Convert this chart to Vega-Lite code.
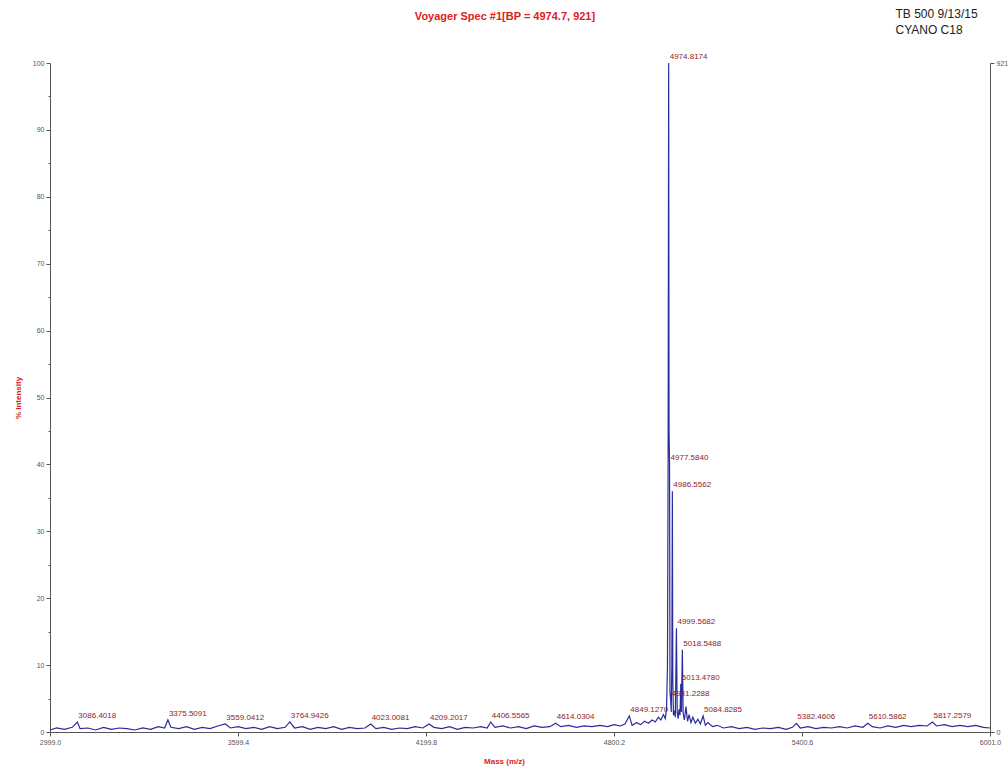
{
  "$schema": "https://vega.github.io/schema/vega-lite/v6.json",
  "autosize": "none",
  "width": 940,
  "height": 669,
  "padding": {"left": 50, "top": 63, "right": 18, "bottom": 39},
  "background": "white",
  "config": {
    "view": {"stroke": null},
    "axis": {
      "labelFont": "Liberation Sans Narrow, Liberation Sans, sans-serif",
      "labelFontSize": 7,
      "labelColor": "#555555",
      "domainColor": "#555555",
      "tickColor": "#555555",
      "grid": false
    }
  },
  "title": {
    "text": "Voyager Spec #1[BP = 4974.7, 921]",
    "color": "#e0201c",
    "font": "Liberation Sans Narrow, Liberation Sans, sans-serif",
    "fontSize": 11,
    "fontWeight": "bold",
    "anchor": "middle",
    "dx": -15,
    "offset": -15
  },
  "datasets": {
    "spectrum": [
      {"mz": 2999, "pct": 0.3}, {"mz": 3020, "pct": 0.6}, {"mz": 3045, "pct": 0.4}, {"mz": 3070, "pct": 0.7},
      {"mz": 3086.4, "pct": 1.5}, {"mz": 3095, "pct": 0.5}, {"mz": 3120, "pct": 0.6}, {"mz": 3145, "pct": 0.3},
      {"mz": 3170, "pct": 0.7}, {"mz": 3195, "pct": 0.4}, {"mz": 3220, "pct": 0.6}, {"mz": 3245, "pct": 0.5},
      {"mz": 3270, "pct": 0.3}, {"mz": 3295, "pct": 0.6}, {"mz": 3320, "pct": 0.4}, {"mz": 3345, "pct": 0.8},
      {"mz": 3365, "pct": 0.6}, {"mz": 3375.5, "pct": 1.8}, {"mz": 3385, "pct": 0.7}, {"mz": 3410, "pct": 0.5},
      {"mz": 3435, "pct": 0.8}, {"mz": 3460, "pct": 0.4}, {"mz": 3485, "pct": 0.7}, {"mz": 3510, "pct": 0.5},
      {"mz": 3535, "pct": 0.9}, {"mz": 3559.0, "pct": 1.2}, {"mz": 3575, "pct": 0.6}, {"mz": 3600, "pct": 0.8},
      {"mz": 3625, "pct": 0.5}, {"mz": 3650, "pct": 0.7}, {"mz": 3675, "pct": 0.4}, {"mz": 3700, "pct": 0.8},
      {"mz": 3725, "pct": 0.5}, {"mz": 3750, "pct": 0.7}, {"mz": 3764.9, "pct": 1.5}, {"mz": 3780, "pct": 0.6},
      {"mz": 3805, "pct": 0.8}, {"mz": 3830, "pct": 0.4}, {"mz": 3855, "pct": 0.7}, {"mz": 3880, "pct": 0.5},
      {"mz": 3905, "pct": 0.8}, {"mz": 3930, "pct": 0.4}, {"mz": 3955, "pct": 0.7}, {"mz": 3980, "pct": 0.5},
      {"mz": 4005, "pct": 0.6}, {"mz": 4023.0, "pct": 1.2}, {"mz": 4040, "pct": 0.5}, {"mz": 4065, "pct": 0.7},
      {"mz": 4090, "pct": 0.4}, {"mz": 4115, "pct": 0.6}, {"mz": 4140, "pct": 0.5}, {"mz": 4165, "pct": 0.8},
      {"mz": 4190, "pct": 0.6}, {"mz": 4209.2, "pct": 1.2}, {"mz": 4225, "pct": 0.7}, {"mz": 4250, "pct": 0.5},
      {"mz": 4275, "pct": 0.8}, {"mz": 4300, "pct": 0.4}, {"mz": 4325, "pct": 0.7}, {"mz": 4350, "pct": 0.6},
      {"mz": 4375, "pct": 0.8}, {"mz": 4395, "pct": 0.6}, {"mz": 4406.6, "pct": 1.5}, {"mz": 4420, "pct": 0.7},
      {"mz": 4445, "pct": 0.9}, {"mz": 4470, "pct": 0.6}, {"mz": 4495, "pct": 0.8}, {"mz": 4520, "pct": 0.5},
      {"mz": 4545, "pct": 0.9}, {"mz": 4570, "pct": 0.7}, {"mz": 4595, "pct": 0.8}, {"mz": 4614.0, "pct": 1.3},
      {"mz": 4630, "pct": 0.8}, {"mz": 4655, "pct": 1.0}, {"mz": 4680, "pct": 0.7}, {"mz": 4705, "pct": 0.9},
      {"mz": 4730, "pct": 0.8}, {"mz": 4755, "pct": 1.0}, {"mz": 4780, "pct": 0.8}, {"mz": 4800, "pct": 1.1},
      {"mz": 4820, "pct": 0.9}, {"mz": 4835, "pct": 1.2}, {"mz": 4849.1, "pct": 2.4}, {"mz": 4858, "pct": 1.0},
      {"mz": 4872, "pct": 1.4}, {"mz": 4885, "pct": 1.1}, {"mz": 4898, "pct": 1.6}, {"mz": 4910, "pct": 1.3},
      {"mz": 4922, "pct": 1.8}, {"mz": 4932, "pct": 1.5}, {"mz": 4942, "pct": 2.2}, {"mz": 4950, "pct": 1.8},
      {"mz": 4958, "pct": 2.6}, {"mz": 4964, "pct": 2.0}, {"mz": 4968, "pct": 3.5}, {"mz": 4971, "pct": 10},
      {"mz": 4973, "pct": 40}, {"mz": 4974.8, "pct": 100}, {"mz": 4976, "pct": 45}, {"mz": 4977.6, "pct": 40},
      {"mz": 4979, "pct": 6}, {"mz": 4981.2, "pct": 4.8}, {"mz": 4983, "pct": 3.0}, {"mz": 4985, "pct": 10},
      {"mz": 4986.6, "pct": 36}, {"mz": 4988, "pct": 8}, {"mz": 4990, "pct": 2.5}, {"mz": 4993, "pct": 3.2},
      {"mz": 4996, "pct": 2.2}, {"mz": 4999.6, "pct": 15.5}, {"mz": 5002, "pct": 3.0}, {"mz": 5005, "pct": 2.0},
      {"mz": 5008, "pct": 3.4}, {"mz": 5011, "pct": 2.5}, {"mz": 5013.5, "pct": 7.2}, {"mz": 5015.5, "pct": 3.0},
      {"mz": 5018.5, "pct": 12.3}, {"mz": 5021, "pct": 2.8}, {"mz": 5025, "pct": 1.8}, {"mz": 5030, "pct": 3.8},
      {"mz": 5035, "pct": 1.6}, {"mz": 5040, "pct": 2.6}, {"mz": 5046, "pct": 1.4}, {"mz": 5052, "pct": 2.2},
      {"mz": 5060, "pct": 1.3}, {"mz": 5068, "pct": 1.9}, {"mz": 5076, "pct": 1.2}, {"mz": 5084.8, "pct": 2.4},
      {"mz": 5092, "pct": 1.0}, {"mz": 5100, "pct": 1.4}, {"mz": 5115, "pct": 0.8}, {"mz": 5130, "pct": 1.0},
      {"mz": 5150, "pct": 0.6}, {"mz": 5175, "pct": 0.8}, {"mz": 5200, "pct": 0.5}, {"mz": 5225, "pct": 0.7},
      {"mz": 5250, "pct": 0.4}, {"mz": 5275, "pct": 0.6}, {"mz": 5300, "pct": 0.5}, {"mz": 5325, "pct": 0.7},
      {"mz": 5350, "pct": 0.4}, {"mz": 5370, "pct": 0.7}, {"mz": 5382.5, "pct": 1.3}, {"mz": 5395, "pct": 0.6},
      {"mz": 5420, "pct": 0.8}, {"mz": 5445, "pct": 0.5}, {"mz": 5470, "pct": 0.7}, {"mz": 5495, "pct": 0.6},
      {"mz": 5520, "pct": 0.8}, {"mz": 5545, "pct": 0.6}, {"mz": 5570, "pct": 0.9}, {"mz": 5595, "pct": 0.7},
      {"mz": 5610.6, "pct": 1.3}, {"mz": 5625, "pct": 0.8}, {"mz": 5650, "pct": 0.6}, {"mz": 5675, "pct": 0.9},
      {"mz": 5700, "pct": 0.7}, {"mz": 5725, "pct": 1.0}, {"mz": 5750, "pct": 0.8}, {"mz": 5775, "pct": 1.0},
      {"mz": 5800, "pct": 0.9}, {"mz": 5817.3, "pct": 1.5}, {"mz": 5830, "pct": 0.9}, {"mz": 5855, "pct": 1.1},
      {"mz": 5880, "pct": 0.8}, {"mz": 5905, "pct": 1.0}, {"mz": 5930, "pct": 0.8}, {"mz": 5955, "pct": 1.0},
      {"mz": 5980, "pct": 0.7}, {"mz": 6001, "pct": 0.6}
    ],
    "peaks": [
      {"mz": 3086.4018, "pct": 1.5, "label": "3086.4018"},
      {"mz": 3375.5091, "pct": 1.8, "label": "3375.5091"},
      {"mz": 3559.0412, "pct": 1.2, "label": "3559.0412"},
      {"mz": 3764.9426, "pct": 1.5, "label": "3764.9426"},
      {"mz": 4023.0081, "pct": 1.2, "label": "4023.0081"},
      {"mz": 4209.2017, "pct": 1.2, "label": "4209.2017"},
      {"mz": 4406.5565, "pct": 1.5, "label": "4406.5565"},
      {"mz": 4614.0304, "pct": 1.3, "label": "4614.0304"},
      {"mz": 4849.1270, "pct": 2.4, "label": "4849.1270"},
      {"mz": 4974.8174, "pct": 100, "label": "4974.8174"},
      {"mz": 4977.5840, "pct": 40, "label": "4977.5840"},
      {"mz": 4981.2288, "pct": 4.8, "label": "4981.2288"},
      {"mz": 4986.5562, "pct": 36, "label": "4986.5562"},
      {"mz": 4999.5682, "pct": 15.5, "label": "4999.5682"},
      {"mz": 5013.4780, "pct": 7.2, "label": "5013.4780"},
      {"mz": 5018.5488, "pct": 12.3, "label": "5018.5488"},
      {"mz": 5084.8285, "pct": 2.4, "label": "5084.8285"},
      {"mz": 5382.4606, "pct": 1.3, "label": "5382.4606"},
      {"mz": 5610.5862, "pct": 1.3, "label": "5610.5862"},
      {"mz": 5817.2579, "pct": 1.5, "label": "5817.2579"}
    ]
  },
  "layer": [
    {
      "data": {"name": "spectrum"},
      "mark": {"type": "line", "color": "#2b2b9c", "strokeWidth": 1.2, "interpolate": "linear"},
      "encoding": {
        "x": {
          "field": "mz",
          "type": "quantitative",
          "scale": {"domain": [2999, 6001], "nice": false, "zero": false},
          "axis": {
            "values": [2999.0, 3599.4, 4199.8, 4800.2, 5400.6, 6001.0],
            "format": ".1f",
            "tickSize": 4,
            "labelPadding": 2,
            "labelFlush": false,
            "title": "Mass (m/z)",
            "titleColor": "#e0201c",
            "titleFont": "Liberation Sans Narrow, Liberation Sans, sans-serif",
            "titleFontSize": 8,
            "titleFontWeight": "bold",
            "titleX": 454,
            "titlePadding": 12
          }
        },
        "y": {
          "field": "pct",
          "type": "quantitative",
          "scale": {"domain": [0, 100], "nice": false},
          "axis": {
            "values": [0, 5, 10, 15, 20, 25, 30, 35, 40, 45, 50, 55, 60, 65, 70, 75, 80, 85, 90, 95, 100],
            "labelExpr": "datum.value % 10 === 0 ? datum.label : ''",
            "tickSize": {"condition": {"test": "datum.value % 10 === 0", "value": 4}, "value": 2},
            "labelPadding": 2,
            "title": "% Intensity",
            "titleColor": "#e0201c",
            "titleFont": "Liberation Sans Narrow, Liberation Sans, sans-serif",
            "titleFontSize": 8,
            "titleFontWeight": "bold",
            "titlePadding": 10
          }
        }
      }
    },
    {
      "data": {"name": "peaks"},
      "mark": {
        "type": "text",
        "align": "left",
        "baseline": "bottom",
        "dx": 1,
        "dy": -2,
        "font": "Liberation Sans Narrow, Liberation Sans, sans-serif",
        "fontSize": 8,
        "color": "#8c2424"
      },
      "encoding": {
        "x": {"field": "mz", "type": "quantitative"},
        "y": {
          "field": "pct",
          "type": "quantitative",
          "axis": {
            "orient": "right",
            "values": [0, 100],
            "labelExpr": "datum.value === 100 ? '921' : '0'",
            "tickSize": 4,
            "labelPadding": 2,
            "title": ["TB 500 9/13/15", "CYANO C18"],
            "titleAngle": 0,
            "titleAlign": "left",
            "titleBaseline": "top",
            "titleX": -95,
            "titleY": -55,
            "titleColor": "#222222",
            "titleFont": "Liberation Sans, sans-serif",
            "titleFontSize": 12,
            "titleFontWeight": "normal",
            "titleLineHeight": 16
          }
        },
        "text": {"field": "label", "type": "nominal"}
      }
    }
  ],
  "resolve": {"axis": {"y": "independent"}}
}
